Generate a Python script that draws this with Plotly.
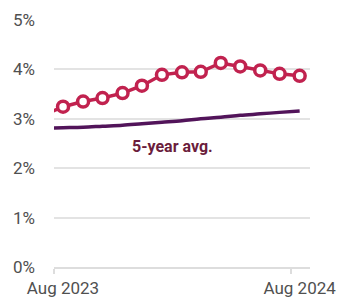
import plotly.graph_objects as go

dates = ["2023-07-15", "2023-08-15", "2023-09-15", "2023-10-15", "2023-11-15", "2023-12-15",
         "2024-01-15", "2024-02-15", "2024-03-15", "2024-04-15", "2024-05-15", "2024-06-15",
         "2024-07-15", "2024-08-15"]
current = [3.07, 3.245, 3.35, 3.42, 3.52, 3.67, 3.89, 3.94, 3.95, 4.13, 4.06, 3.98, 3.91, 3.87]
five_year_avg = [2.81, 2.82, 2.83, 2.85, 2.87, 2.90, 2.93, 2.96, 3.00, 3.03, 3.07, 3.10, 3.13, 3.16]

y_ticks = [0, 1, 2, 3, 4, 5]
y_labels = ["0%", "1%", "2%", "3%", "4%", "5%"]
x_ticks = ["2023-08-01", "2024-08-01"]
x_labels = ["Aug 2023", "Aug 2024"]

RED = "#C1224F"
PURPLE = "#52145A"

fig = go.Figure()
fig.add_trace(go.Scatter(
    x=dates, y=five_year_avg, mode="lines",
    line=dict(color=PURPLE, width=3.5, shape="spline"),
    hoverinfo="skip", showlegend=False,
))
fig.add_trace(go.Scatter(
    x=dates, y=current, mode="lines+markers",
    line=dict(color=RED, width=3.5),
    marker=dict(size=11, color="white", line=dict(color=RED, width=3.5)),
    showlegend=False,
))
fig.add_annotation(
    x="2024-02-01", y=2.43, text="<b>5-year avg.</b>", showarrow=False,
    font=dict(family="Roboto, Liberation Sans, sans-serif", size=16, color="#6B1D3C"),
)
fig.update_layout(
    width=354, height=302,
    margin=dict(l=46, r=52, t=12, b=43),
    plot_bgcolor="white", paper_bgcolor="white",
    font=dict(family="Roboto, Liberation Sans, sans-serif", size=17, color="#505050"),
)
fig.update_xaxes(
    range=["2023-08-01", "2024-08-31"],
    tickvals=x_ticks, ticktext=x_labels,
    showgrid=False, showline=True, linecolor="#dddddd", linewidth=1.5,
    ticks="outside", ticklen=5, tickcolor="#dddddd", tickwidth=1.5,
    ticklabelshift=9, zeroline=False, automargin=False,
)
fig.update_yaxes(
    range=[0, 5], tickvals=y_ticks, ticktext=y_labels,
    showgrid=True, gridcolor="#e3e3e3", gridwidth=1.5,
    zeroline=False, showline=False, ticks="", ticklabelstandoff=18,
    automargin=False,
)
fig.write_html("out.html")
